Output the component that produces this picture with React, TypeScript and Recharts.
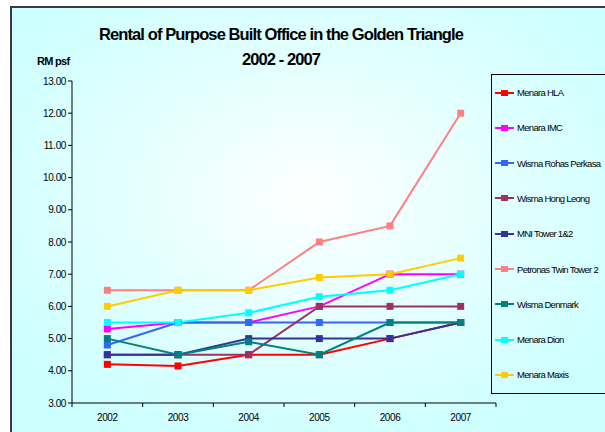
import { LineChart, Line, XAxis, YAxis } from "recharts";

const years = ["2002", "2003", "2004", "2005", "2006", "2007"];
const yTicks = [3, 4, 5, 6, 7, 8, 9, 10, 11, 12, 13];

const menaraHla = [4.2, 4.15, 4.5, 4.5, 5.0, 5.5];
const menaraImc = [5.3, 5.5, 5.5, 6.0, 7.0, 7.0];
const wismaRohas = [4.8, 5.5, 5.5, 5.5, 5.5, 5.5];
const wismaHongLeong = [4.5, 4.5, 4.5, 6.0, 6.0, 6.0];
const mniTower = [4.5, 4.5, 5.0, 5.0, 5.0, 5.5];
const petronas = [6.5, 6.5, 6.5, 8.0, 8.5, 12.0];
const wismaDenmark = [5.0, 4.5, 4.9, 4.5, 5.5, 5.5];
const menaraDion = [5.5, 5.5, 5.8, 6.3, 6.5, 7.0];
const menaraMaxis = [6.0, 6.5, 6.5, 6.9, 7.0, 7.5];

const series = [
  { key: "hla", name: "Menara HLA", color: "#ff0000", values: menaraHla },
  { key: "imc", name: "Menara IMC", color: "#ff00ff", values: menaraImc },
  { key: "rohas", name: "Wisma Rohas Perkasa", color: "#3366ff", values: wismaRohas },
  { key: "hongleong", name: "Wisma Hong Leong", color: "#993366", values: wismaHongLeong },
  { key: "mni", name: "MNI Tower 1&2", color: "#333399", values: mniTower },
  { key: "petronas", name: "Petronas Twin Tower 2", color: "#ff8080", values: petronas },
  { key: "denmark", name: "Wisma Denmark", color: "#008080", values: wismaDenmark },
  { key: "dion", name: "Menara Dion", color: "#00ffff", values: menaraDion },
  { key: "maxis", name: "Menara Maxis", color: "#ffcc00", values: menaraMaxis },
];

const data = years.map((year, i) => {
  const row: Record<string, number | string> = { idx: i, year };
  series.forEach((s) => {
    row[s.key] = s.values[i];
  });
  return row;
});

const FONT = "'Liberation Sans', Arial, sans-serif";
const PLOT_WIDTH = 424;
const HALF_STEP = PLOT_WIDTH / years.length / 2;

const SquareDot = (props: any) => {
  const { cx, cy, stroke } = props;
  if (cx == null || cy == null) return null;
  return <rect x={cx - 3.5} y={cy - 3.5} width={7} height={7} fill={stroke} />;
};

const YearTick = (props: any) => {
  const { x, y, payload } = props;
  const isLast = payload.value === years.length - 1;
  return (
    <g>
      <line x1={x - HALF_STEP} y1={y - 8} x2={x - HALF_STEP} y2={y - 4} stroke="#000" />
      {isLast && (
        <line x1={x + HALF_STEP} y1={y - 8} x2={x + HALF_STEP} y2={y - 4} stroke="#000" />
      )}
      <text
        x={x}
        y={y + 10}
        textAnchor="middle"
        fontSize={10}
        fontFamily={FONT}
        letterSpacing={-0.4}
        fill="#000"
      >
        {years[payload.value]}
      </text>
    </g>
  );
};

export default function App() {
  return (
    <div
      style={{
        position: "absolute",
        left: 0,
        top: 0,
        width: 605,
        height: 432,
        overflow: "hidden",
        background: "#fff",
      }}
    >
      <div
        style={{
          position: "absolute",
          left: 10,
          top: 6,
          width: 620,
          height: 450,
          border: "2px solid #3a3a3a",
          background:
            "radial-gradient(ellipse 60% 60% at 48% 42%, #ffffff 0%, #e6ffff 45%, #ccffff 100%)",
        }}
      />
      <div
        style={{
          position: "absolute",
          left: 0,
          width: 562,
          top: 22,
          textAlign: "center",
          fontFamily: FONT,
          fontWeight: "bold",
          fontSize: 16.5,
          letterSpacing: -0.9,
          lineHeight: "25px",
          color: "#000",
        }}
      >
        <div>Rental of Purpose Built Office in the Golden Triangle</div>
        <div>2002 - 2007</div>
      </div>
      <div
        style={{
          position: "absolute",
          left: 37,
          top: 55,
          fontFamily: FONT,
          fontWeight: "bold",
          fontSize: 11,
          letterSpacing: -0.7,
          color: "#000",
        }}
      >
        RM psf
      </div>
      <LineChart
        width={605}
        height={432}
        data={data}
        margin={{ top: 81, right: 109, bottom: 9, left: 12 }}
        style={{ position: "absolute", left: 0, top: 0 }}
      >
        <XAxis
          dataKey="idx"
          type="number"
          domain={[-0.5, years.length - 0.5]}
          ticks={years.map((_, i) => i)}
          tickLine={false}
          axisLine={{ stroke: "#000" }}
          tick={<YearTick />}
          height={20}
          interval={0}
        />
        <YAxis
          domain={[3, 13]}
          ticks={yTicks}
          width={60}
          interval={0}
          tickSize={4}
          tickLine={{ stroke: "#000" }}
          axisLine={{ stroke: "#000" }}
          tickFormatter={(v: number) => v.toFixed(2)}
          tick={{ fontSize: 10, fill: "#000", fontFamily: FONT, letterSpacing: -0.4 }}
        />
        {series.map((s) => (
          <Line
            key={s.key}
            dataKey={s.key}
            name={s.name}
            stroke={s.color}
            strokeWidth={2}
            dot={<SquareDot />}
            activeDot={false}
            isAnimationActive={false}
          />
        ))}
      </LineChart>
      <div
        style={{
          position: "absolute",
          left: 491,
          top: 74,
          width: 130,
          height: 318,
          border: "1px solid #000",
          fontFamily: FONT,
          fontSize: 9.5,
          letterSpacing: -0.7,
          color: "#000",
        }}
      >
        {series.map((s, i) => (
          <div
            key={s.key}
            style={{
              position: "absolute",
              left: 3,
              top: 12 + i * 35.3,
              display: "flex",
              alignItems: "center",
              whiteSpace: "nowrap",
            }}
          >
            <svg width={20} height={10} style={{ marginRight: 2 }}>
              <line x1={0} y1={5} x2={19} y2={5} stroke={s.color} strokeWidth={2} />
              <rect x={6} y={2} width={7} height={6} fill={s.color} />
            </svg>
            <span>{s.name}</span>
          </div>
        ))}
      </div>
    </div>
  );
}
